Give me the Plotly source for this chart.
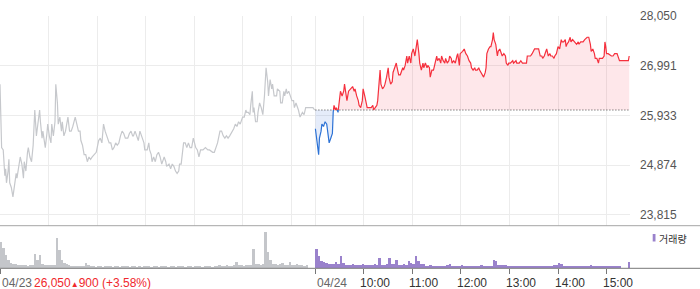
import plotly.graph_objects as go

# ---------------- data ----------------
# (minutes after 09:00, price) — 04/23 session
day1_points = [
    (0,26600),(2,25250),(4,25200),(6,24650),(7,24800),(8,24500),(10,24750),(11,25000),(12,24500),(14,24400),
    (16,24200),(18,24450),(20,24700),(21,24600),(23,24850),(25,25050),(27,24900),(29,24600),(30,24950),(32,24750),
    (34,25150),(35,25250),(37,25050),(39,24950),(41,25300),(43,26050),(45,25500),(47,25750),(49,26050),(50,25800),
    (52,25450),(53,25600),(56,25250),(58,25550),(59,25750),(61,25500),(63,25350),(64,25750),(66,25500),(68,25800),
    (69,26600),(71,26200),(72,25750),(74,25900),(76,25600),(77,25800),(79,25500),(81,25600),(82,25700),(84,25900),
    (86,25600),(88,25600),(90,25700),(93,25900),(95,25750),(97,25600),(99,25600),(100,25400),(102,25300),(104,25100),
    (106,25100),(108,24950),(110,25050),(112,25000),(114,25050),(117,25100),(119,25150),(122,25400),(124,25450),(126,25350),
    (128,25750),(130,25600),(132,25500),(135,25350),(137,25350),(139,25200),(141,25250),(143,25350),(145,25300),(147,25350),
    (149,25500),(151,25600),(153,25550),(155,25450),(158,25450),(160,25550),(162,25600),(164,25500),(165,25500),(167,25600),
    (169,25500),(171,25400),(173,25600),(175,25500),(178,25350),(179,25200),(182,25200),(184,25350),(185,25200),(187,25100),
    (188,24950),(190,25050),(192,24950),(194,25100),(196,25150),(198,25050),(200,24900),(202,25000),(203,25050),(205,24950),
    (206,24850),(209,24900),(211,24800),(213,24900),(215,24850),(217,24750),(219,24700),(221,24750),(222,24900),(224,24900),
    (225,25100),(227,25350),(229,25350),(231,25250),(233,25350),(235,25250),(237,25250),(239,25450),(242,25250),(244,25200),
    (246,25050),(248,25200),(251,25200),(254,25250),(257,25200),(259,25200),(263,25150),(265,25150),(267,25250),(269,25350),
    (272,25600),(274,25600),(276,25500),(278,25450),(280,25500),(282,25450),(284,25500),(286,25550),(289,25650),(291,25750),
    (293,25700),(295,25800),(297,25750),(300,25900),(302,25900),(304,26050),(305,26000),(307,26000),(309,25950),(310,26150),
    (312,26450),(313,26000),(314,26100),(316,25800),(318,25800),(319,26000),(321,26200),(323,26100),(325,25950),(327,26350),
    (329,26950),(331,26650),(332,26350),(334,26700),(336,26500),(337,26600),(339,26350),(342,26350),(343,26500),(346,26450),
    (347,26200),(349,26200),(351,26450),(352,26350),(354,26500),(355,26400),(357,26450),(359,26350),(361,26250),(363,26250),
    (364,26100),(366,26200),(368,26100),(369,26050),(371,25900),(373,25950),(374,26000),(376,25950),(378,26100),(380,26100),
    (383,26100),(387,26100),(389,26050),
]

# (minutes after 09:00, price) — 04/24 session
day2_points = [
    (0,25650),(2,25350),(3,25200),(4,25100),(5,25450),(7,25600),(8,25750),(10,25700),(11,25750),(12,25800),
    (14,25750),(16,25450),(17,25350),(19,25450),(21,25550),(22,26000),(23,26150),(25,26050),(26,26100),(28,26000),
    (30,26350),(31,26450),(33,26350),(35,26450),(36,26600),(38,26350),(39,26250),(41,26450),(43,26500),(44,26500),
    (46,26550),(48,26450),(49,26500),(51,26350),(53,26250),(54,26150),(56,26100),(58,26250),(59,26500),(61,26350),
    (63,26200),(64,26100),(66,26100),(68,26100),(69,26100),(71,26150),(72,26050),(74,26100),(76,26150),(77,26250),
    (79,26600),(80,26900),(81,26600),(83,26500),(85,26550),(86,26600),(88,26750),(90,26950),(91,26750),(93,26600),
    (95,26650),(96,26850),(98,26950),(100,27050),(101,26950),(103,26800),(105,26800),(106,26850),(108,26950),(109,26900),
    (111,27000),(113,27200),(114,27050),(116,27200),(118,27050),(119,27250),(121,27350),(123,27200),(124,27350),(126,27550),
    (128,27250),(129,27050),(131,26900),(133,27050),(134,26950),(136,27050),(138,26950),(139,27000),(141,26950),(142,26750),
    (144,26900),(146,26900),(148,27050),(150,27200),(151,27100),(153,27150),(155,27050),(156,27200),(158,27100),(160,27050),
    (161,27150),(163,27050),(165,27100),(166,27200),(168,27150),(169,27050),(171,27100),(173,27050),(175,27200),(176,27250),
    (178,27000),(179,27250),(182,27300),(184,27350),(186,27250),(188,27200),(190,27100),(192,27050),(193,26950),(195,26900),
    (197,26950),(198,26900),(200,26900),(202,26950),(203,26900),(205,26850),(206,26800),(208,26750),(210,26850),(211,26950),
    (212,27250),(214,27350),(216,27400),(217,27400),(219,27550),(220,27700),(221,27550),(223,27450),(225,27200),(226,27300),
    (228,27350),(230,27250),(231,27200),(233,27250),(235,27200),(236,27050),(238,27000),(239,27050),(241,27050),(244,27100),
    (245,27050),(248,27100),(249,27050),(252,27050),(254,27100),(256,27050),(259,27050),(261,27050),(262,27200),(265,27200),
    (266,27200),(268,27250),(270,27300),(271,27350),(273,27350),(275,27350),(276,27350),(278,27200),(280,27200),(281,27150),
    (283,27200),(285,27300),(286,27350),(288,27200),(290,27250),(291,27200),(293,27200),(295,27150),(296,27200),(298,27250),
    (300,27400),(302,27350),(303,27450),(304,27550),(305,27500),(307,27500),(309,27550),(310,27400),(311,27450),(313,27500),
    (315,27600),(316,27500),(318,27550),(320,27500),(321,27500),(323,27450),(325,27500),(326,27450),(328,27500),(330,27500),
    (331,27500),(333,27550),(335,27600),(336,27600),(338,27600),(340,27450),(341,27300),(343,27350),(345,27250),(346,27150),
    (348,27150),(350,27050),(351,27150),(353,27150),(355,27150),(357,27200),(358,27500),(359,27400),(360,27250),(362,27250),
    (365,27200),(366,27200),(368,27200),(370,27250),(373,27250),(374,27200),(376,27100),(380,27100),(384,27100),(387,27100),
    (388,27200),
]

# volume per 3-minute bucket (thousand shares)
day1_volume = [
    26,20,13,8,5,4,4,3,3,3,3,2,3,3,
    14,8,13,4,3,3,3,3,3,
    30,18,8,5,4,3,
    2,2,2,2,2,2,
    5,3,
    2,2,1,2,2,1,2,2,2,1, 2,2,1,2,2,2,1,2,2,1, 2,1,2,2,2,1,2,2,1,2,
    2,2,1,2,2,1,2,2,2,1, 2,2,1,2,2,2,1,2,2,2, 1,2,2,
    3,2,2,3,2,2,3,
    6,
    3,3,2,3,3,3,
    19,
    4,4,3,4,
    36,
    16,8,
    4,4,3,4,5,3,3,
    6,
    3,3,4,3,3,2,3,
    0,0,0,
]
day2_volume = [
    19,12,7,6,5,4,4,4,6,4,12,5,3,
    3,3,4,3,3,3,4,3,3,3,3,4,3,
    10,
    3,3,4,
    10,
    4,4,
    8,
    3,3,4,3,
    7,5,4,
    12,7,4,4,
    2,2,3,2,2,2,2,2,2,3,
    4,
    2,2,2,2,3,2,2,2,2,2,2,2,3,2,2,2,2,
    8,7,
    3,3,3,3,
    2,2,2,2,2,2,2,2,2,2,2,2,2,2,2,2,2,2,2,3,3,
    5,4,
    2,2,2,2,2,2,2,2,2,2,2,3,2,2,2,2,2,2,2,2,2,2,2,2,
    0,0,0,
    6,
]

day1_label = "04/23"
day2_label = "04/24"
day1_close = 26050
day1_change = 900
day1_change_pct = 3.58
hour_labels = ["10:00", "11:00", "12:00", "13:00", "14:00", "15:00"]
price_ticks = [23815, 24874, 25933, 26991, 28050]
legend_label = "거래량"

# ---------------- styling constants ----------------
SESSION = 390          # minutes per session (09:00-15:30)
BUCKET = 3
W, H = 700, 289
PLOT_W = 630
GRID = "#ececec"
GREY_LINE = "#c6c8cc"
RED = "#f5303d"
BLUE = "#2c72d6"
RED_FILL = "rgba(250,70,90,0.13)"
BLUE_FILL = "rgba(70,120,220,0.14)"
VOL_GREY = "#c4c6ca"
VOL_PURPLE = "#9a82cc"
NUM_FONT = "Liberation Sans, Arial, Noto Sans CJK KR, sans-serif"
KR_FONT = "Noto Sans CJK KR, sans-serif"


def py(px):
    """pixel row -> paper y"""
    return 1 - px / H


def pxx(px):
    """pixel column -> paper x"""
    return px / PLOT_W


d1_x = [m for m, _ in day1_points]
d1_y = [p for _, p in day1_points]
d2_x = [SESSION + m for m, _ in day2_points]
d2_y = [p for _, p in day2_points]
base = day1_close

# insert baseline crossing points so red/blue parts meet on the baseline
X, Y = [], []
for i in range(len(d2_x)):
    if i > 0:
        a, b = d2_y[i - 1] - base, d2_y[i] - base
        if a * b < 0:
            t = a / (a - b)
            X.append(d2_x[i - 1] + t * (d2_x[i] - d2_x[i - 1]))
            Y.append(base)
    X.append(d2_x[i])
    Y.append(d2_y[i])

red_line = [y if y >= base else None for y in Y]
blue_line = [y if y <= base else None for y in Y]
red_fill = [max(y, base) for y in Y]
blue_fill = [min(y, base) for y in Y]
base_line = [base] * len(X)

fig = go.Figure()

# fills
fig.add_trace(go.Scatter(x=X, y=base_line, mode="lines", line=dict(width=0), hoverinfo="skip"))
fig.add_trace(go.Scatter(x=X, y=red_fill, mode="lines", line=dict(width=0), fill="tonexty",
                         fillcolor=RED_FILL, hoverinfo="skip"))
fig.add_trace(go.Scatter(x=X, y=base_line, mode="lines", line=dict(width=0), hoverinfo="skip"))
fig.add_trace(go.Scatter(x=X, y=blue_fill, mode="lines", line=dict(width=0), fill="tonexty",
                         fillcolor=BLUE_FILL, hoverinfo="skip"))
# dotted previous-close line
fig.add_trace(go.Scatter(x=[X[0], X[-1]], y=[base, base], mode="lines",
                         line=dict(color="#444444", width=1, dash="1px,2px"), hoverinfo="skip"))
# lines
fig.add_trace(go.Scatter(x=d1_x, y=d1_y, mode="lines", line=dict(color=GREY_LINE, width=1.2)))
fig.add_trace(go.Scatter(x=X, y=red_line, mode="lines", line=dict(color=RED, width=1.2), connectgaps=False))
fig.add_trace(go.Scatter(x=X, y=blue_line, mode="lines", line=dict(color=BLUE, width=1.2), connectgaps=False))

# volume
fig.add_trace(go.Bar(x=[BUCKET * i + BUCKET / 2 for i in range(len(day1_volume))], y=day1_volume,
                     width=BUCKET, marker=dict(color=VOL_GREY, line=dict(width=0)),
                     xaxis="x2", yaxis="y2"))
fig.add_trace(go.Bar(x=[SESSION + BUCKET * i + BUCKET / 2 for i in range(len(day2_volume))], y=day2_volume,
                     width=BUCKET, marker=dict(color=VOL_PURPLE, line=dict(width=0)),
                     xaxis="x2", yaxis="y2"))

hour_ticks_d1 = list(range(0, SESSION, 60))
hour_ticks_d2 = [SESSION + 60 * (k + 1) for k in range(len(hour_labels))]
xrange = [0, 2 * SESSION - 1]

fig.update_layout(
    width=W, height=H,
    margin=dict(l=0, r=W - PLOT_W, t=0, b=0, pad=0, autoexpand=False),
    paper_bgcolor="white", plot_bgcolor="white",
    showlegend=False, bargap=0, barmode="overlay",
    hovermode=False,
    xaxis=dict(domain=[0, 1], range=xrange, anchor="y", showticklabels=False, automargin=False,
               tickvals=hour_ticks_d1 + [SESSION] + hour_ticks_d2, showgrid=True,
               gridcolor=GRID, gridwidth=1, zeroline=False, showline=False, ticks=""),
    yaxis=dict(domain=[py(225.5), py(16)], range=[23591, 28052], side="right", automargin=False,
               tickvals=price_ticks, ticktext=[f"{v:,}" for v in price_ticks],
               showgrid=True, gridcolor=GRID, zeroline=False, showline=False, ticks="",
               ticklabelstandoff=9,
               tickfont=dict(family=NUM_FONT, size=12, color="#555555")),
    xaxis2=dict(domain=[0, 1], range=xrange, anchor="y2", showticklabels=False, automargin=False,
                tickvals=[0, SESSION] + hour_ticks_d2, ticks="outside", ticklen=5,
                tickcolor="#777777", tickwidth=1, showgrid=False, zeroline=False, showline=False),
    yaxis2=dict(domain=[py(268.3), py(230)], range=[0, 38], visible=False, automargin=False),
)

# panel separator & volume axis line (full width)
fig.add_shape(type="line", xref="paper", yref="paper", x0=0, x1=W / PLOT_W,
              y0=py(225.7), y1=py(225.7), line=dict(color="#a6a6a6", width=1))
fig.add_shape(type="line", xref="paper", yref="paper", x0=0, x1=W / PLOT_W,
              y0=py(268.3), y1=py(268.3), line=dict(color="#777777", width=1))

# legend
fig.add_shape(type="rect", xref="paper", yref="paper", x0=pxx(652.7), x1=pxx(655.5),
              y0=py(241.5), y1=py(234), line=dict(width=0), fillcolor=VOL_PURPLE)
fig.add_annotation(xref="paper", yref="paper", x=pxx(657), y=py(238), text=legend_label,
                   xanchor="left", yanchor="middle", showarrow=False,
                   font=dict(family=KR_FONT, size=10, color="#333333"))

# x labels
lab_y = py(283)
fig.add_annotation(xref="x2", yref="paper", x=0, y=lab_y, text=day1_label, xanchor="left",
                   yanchor="middle", showarrow=False,
                   font=dict(family=NUM_FONT, size=12, color="#666666"))
fig.add_annotation(xref="paper", yref="paper", x=pxx(32), y=lab_y,
                   text=f"{day1_close:,}<span style='font-size:8px'>▲</span>{day1_change:,} (+{day1_change_pct:.2f}%)",
                   xanchor="left", yanchor="middle", showarrow=False,
                   font=dict(family=NUM_FONT, size=12, color="#f0282d"))
fig.add_annotation(xref="x2", yref="paper", x=SESSION, y=lab_y, text=day2_label, xanchor="left",
                   yanchor="middle", showarrow=False,
                   font=dict(family=NUM_FONT, size=12, color="#666666"))
for t, lab in zip(hour_ticks_d2, hour_labels):
    fig.add_annotation(xref="x2", yref="paper", x=t, y=lab_y, text=lab, xanchor="left",
                       yanchor="middle", xshift=-5.5, showarrow=False,
                       font=dict(family=NUM_FONT, size=12, color="#333333"))

fig.write_html("out.html")
